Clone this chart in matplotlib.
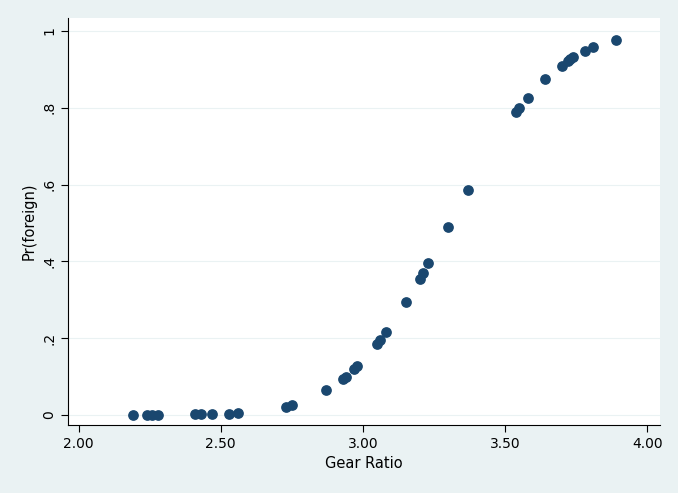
import matplotlib
matplotlib.use("Agg")
import matplotlib.pyplot as plt

gear_ratio = [2.19, 2.24, 2.26, 2.28, 2.41, 2.43, 2.47, 2.53, 2.56, 2.73, 2.75,
              2.87, 2.93, 2.94, 2.97, 2.98, 3.05, 3.06, 3.08, 3.15, 3.20, 3.21,
              3.23, 3.30, 3.37, 3.54, 3.55, 3.58, 3.64, 3.70, 3.72, 3.73, 3.74,
              3.78, 3.81, 3.89]
pr_foreign = [0.0005, 0.001, 0.001, 0.001, 0.002, 0.002, 0.002, 0.003, 0.004, 0.021, 0.026,
              0.065, 0.095, 0.10, 0.12, 0.127, 0.185, 0.195, 0.215, 0.295, 0.355, 0.37,
              0.395, 0.49, 0.585, 0.79, 0.80, 0.825, 0.875, 0.91, 0.922, 0.928, 0.933,
              0.948, 0.958, 0.977]
xticks = [2.0, 2.5, 3.0, 3.5, 4.0]
xlabels = ["2.00", "2.50", "3.00", "3.50", "4.00"]
yticks = [0, 0.2, 0.4, 0.6, 0.8, 1.0]
ylabels = ["0", ".2", ".4", ".6", ".8", "1"]

bg = "#EAF2F3"
fig = plt.figure(figsize=(6.78, 4.93), dpi=100, facecolor=bg)
ax = fig.add_axes([68/678, 1-425/493, (660-68)/678, (425-18)/493])
ax.set_facecolor("white")
ax.scatter(gear_ratio, pr_foreign, s=45, color="#1A476F", zorder=3)
ax.set_xlim(1.963, 4.045)
ax.set_ylim(-0.026, 1.034)
ax.set_xticks(xticks)
ax.set_xticklabels(xlabels)
ax.set_yticks(yticks)
ax.set_yticklabels(ylabels, rotation=90, va="center")
ax.grid(axis="y", color=bg, linewidth=0.8)
ax.set_axisbelow(True)
for s in ["top", "right"]:
    ax.spines[s].set_visible(False)
for s in ["left", "bottom"]:
    ax.spines[s].set_color("black")
    ax.spines[s].set_linewidth(0.8)
ax.tick_params(labelsize=10, length=5, width=0.8)
ax.set_xlabel("Gear Ratio", fontsize=10.5)
ax.set_ylabel("Pr(foreign)", fontsize=10.5)
fig.savefig("out.png", dpi=100, facecolor=bg)
